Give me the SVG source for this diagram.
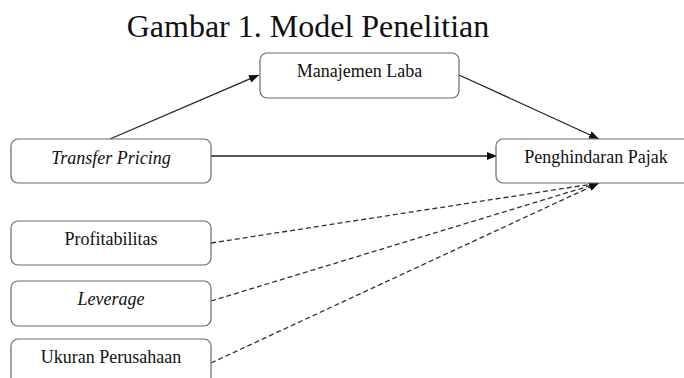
<svg xmlns="http://www.w3.org/2000/svg" width="684" height="378" viewBox="0 0 684 378">
<defs>
<style>
.box{fill:#fff;stroke:#6b6b6b;stroke-width:1.2}
.t{fill:#111;text-anchor:middle}
.solid{stroke:#222;stroke-width:1.3;fill:none}
.dash{stroke:#333;stroke-width:1.3;fill:none;stroke-dasharray:5 3}
</style>
<marker id="ah" viewBox="0 0 10 8" refX="10" refY="4" markerWidth="10" markerHeight="8" markerUnits="userSpaceOnUse" orient="auto">
<path d="M0,0 L10,4 L0,8 Z" fill="#111"/>
</marker>
</defs>
<rect width="684" height="378" fill="#fff"/>
<text x="308" y="37" font-family="Liberation Serif, Times New Roman, serif" font-size="32" fill="#111" text-anchor="middle">Gambar 1. Model Penelitian</text>
<g id="connectors">
<line class="solid" x1="110" y1="139" x2="259" y2="75" marker-end="url(#ah)"/>
<line class="solid" x1="459" y1="75" x2="599" y2="139" marker-end="url(#ah)"/>
<line class="solid" x1="211" y1="156" x2="497" y2="156" marker-end="url(#ah)"/>
<line class="dash" x1="211" y1="243" x2="599" y2="183" marker-end="url(#ah)"/>
<line class="dash" x1="211" y1="301" x2="599" y2="183" marker-end="url(#ah)"/>
<line class="dash" x1="211" y1="363" x2="599" y2="183" marker-end="url(#ah)"/>
</g>
<g font-family="Liberation Serif, Times New Roman, serif" font-size="18">
<g id="manajemen-laba">
<rect class="box" x="260" y="53" width="199" height="45" rx="7"/>
<text class="t" x="359.5" y="77">Manajemen Laba</text>
</g>
<g id="transfer-pricing">
<rect class="box" x="11" y="139" width="200" height="44" rx="7"/>
<text class="t" font-style="italic" x="111" y="164">Transfer Pricing</text>
</g>
<g id="penghindaran-pajak">
<rect class="box" x="496" y="139" width="200" height="44" rx="7"/>
<text class="t" x="596" y="163">Penghindaran Pajak</text>
</g>
<g id="profitabilitas">
<rect class="box" x="11" y="221" width="200" height="44" rx="7"/>
<text class="t" x="111" y="245">Profitabilitas</text>
</g>
<g id="leverage">
<rect class="box" x="11" y="281" width="200" height="45" rx="7"/>
<text class="t" font-style="italic" x="111" y="305">Leverage</text>
</g>
<g id="ukuran-perusahaan">
<rect class="box" x="11" y="339" width="200" height="50" rx="7"/>
<text class="t" x="111" y="363">Ukuran Perusahaan</text>
</g>
</g>
</svg>
